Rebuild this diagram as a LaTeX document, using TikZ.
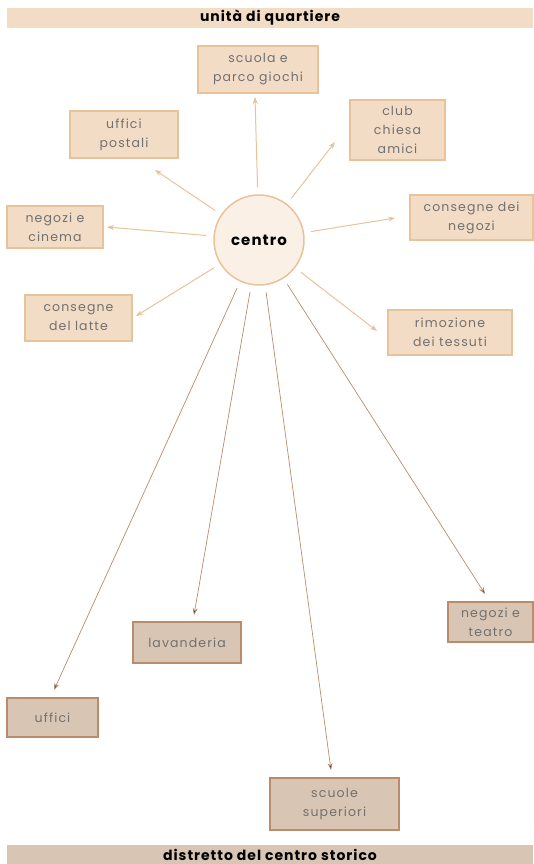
\documentclass[tikz,border=0pt]{standalone}
\usepackage{fontspec}
\setmainfont{Poppins}
\newfontfamily\labelfont[LetterSpace=9]{Poppins}
\newfontfamily\barfont[LetterSpace=7]{Poppins}
\usetikzlibrary{arrows.meta}

\definecolor{peach}{HTML}{F3DCC6}
\definecolor{peachline}{HTML}{E8C39A}
\definecolor{taupe}{HTML}{D9C5B3}
\definecolor{taupeline}{HTML}{B98C6B}
\definecolor{labelgray}{HTML}{707070}
\definecolor{cream}{HTML}{FAF0E6}

\begin{document}
\begin{tikzpicture}[x=1pt,y=-1pt,>={Stealth[length=7pt,width=5pt]},
    label text/.style={font=\labelfont\fontsize{12.5}{19}\selectfont,text=labelgray,align=center,inner sep=2pt},
    top box/.style={label text,rectangle,draw=peachline,fill=peach,line width=1.3pt},
    bottom box/.style={label text,rectangle,draw=taupeline,fill=taupe,line width=1.3pt},
    bar/.style={fill=peach,minimum width=526,minimum height=20,inner sep=0pt,font=\barfont\bfseries\fontsize{14}{16}\selectfont},
    main node/.style={circle,draw=peachline,fill=cream,line width=1.5pt,minimum size=90,font=\barfont\bfseries\fontsize{15}{17}\selectfont}]

            \useasboundingbox (0,0) rectangle (533,864);

            \node[bar] (top) at (270,18) {unità di quartiere};
            \node[bar, fill=taupe] (bottom) at (270,855) {distretto del centro storico};

            \node[main node] (c) at (259,240) {centro};

            % unita di quartiere
            \node[top box, minimum width=120, minimum height=47] (1) at (258,69.5) {scuola e\\parco giochi};
            \node[top box, minimum width=108, minimum height=47] (2) at (124,134.5) {uffici\\postali};
            \node[top box, minimum width=95, minimum height=60] (3) at (397.5,130) {club\\chiesa\\amici};
            \node[top box, minimum width=96, minimum height=42] (4) at (55,227) {negozi e\\cinema};
            \node[top box, minimum width=123, minimum height=45] (5) at (471.5,217.5) {consegne dei\\negozi};
            \node[top box, minimum width=107, minimum height=46] (6) at (78.5,318) {consegne\\del latte};
            \node[top box, minimum width=124, minimum height=45] (7) at (450,332.5) {rimozione\\dei tessuti};

            % distretto
            \node[bottom box, minimum width=108, minimum height=41] (8) at (187,642.5) {lavanderia};
            \node[bottom box, minimum width=85, minimum height=40] (9) at (490.5,622) {negozi e\\teatro};
            \node[bottom box, minimum width=91, minimum height=39] (10) at (52.5,717.5) {uffici};
            \node[bottom box, minimum width=129, minimum height=52] (11) at (334.5,804) {scuole\\superiori};

            \coordinate (t1) at (255,97);
            \coordinate (t2) at (155,170);
            \coordinate (t3) at (335,142);
            \coordinate (t4) at (107,227);
            \coordinate (t5) at (395,218);
            \coordinate (t6) at (136,316);
            \coordinate (t7) at (377,331);
            \coordinate (t8) at (194,615);
            \coordinate (t9) at (485,594);
            \coordinate (t10) at (54,690);
            \coordinate (t11) at (331,770);

            \path[->,draw=peachline,line width=1pt,shorten <=7pt]
                (c) edge (t1)
                (c) edge (t2)
                (c) edge (t3)
                (c) edge (t4)
                (c) edge (t5)
                (c) edge (t6)
                (c) edge (t7)
                ;
            \path[->,draw=taupeline,line width=0.7pt,shorten <=7pt]
                (c) edge (t8)
                (c) edge (t9)
                (c) edge (t10)
                (c) edge (t11)
                ;
        \end{tikzpicture}
\end{document}
